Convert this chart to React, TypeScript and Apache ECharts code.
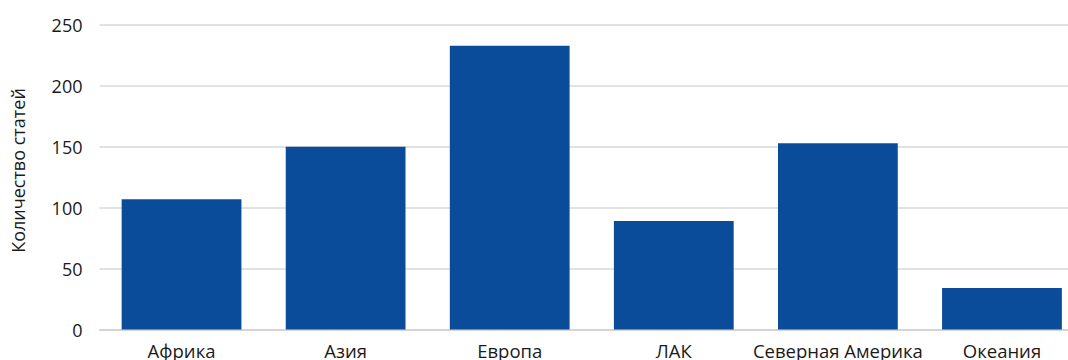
import React, { useEffect, useRef } from "react";
import * as echarts from "echarts";

const categories = ["Африка", "Азия", "Европа", "ЛАК", "Северная Америка", "Океания"];
const values = [107, 150, 233, 89, 153, 34];
const yTicks = { min: 0, max: 250, interval: 50 };
const yTitle = "Количество статей";

export default function App() {
  const ref = useRef<HTMLDivElement>(null);
  useEffect(() => {
    if (!ref.current) return;
    const chart = echarts.init(ref.current, undefined, { renderer: "svg" });
    const font = "'Open Sans', 'Noto Sans', sans-serif";
    chart.setOption({
      animation: false,
      grid: { left: 99.5, right: 0, top: 25, bottom: 30.5, containLabel: false },
      graphic: [
        {
          type: "text",
          x: 18,
          y: 170.5,
          rotation: Math.PI / 2,
          style: {
            text: yTitle,
            fill: "#1a1a1a",
            font: `18px ${font}`,
            textAlign: "center",
            textVerticalAlign: "middle",
          },
        },
      ],
      xAxis: {
        type: "category",
        data: categories,
        axisTick: { show: false },
        axisLine: { show: true, lineStyle: { color: "#d0d0d0", width: 1.5 } },
        axisLabel: { color: "#1a1a1a", fontSize: 18.5, fontFamily: font, margin: 11, interval: 0 },
      },
      yAxis: {
        type: "value",
        min: yTicks.min,
        max: yTicks.max,
        interval: yTicks.interval,
        axisLine: { show: false },
        axisTick: { show: false },
        axisLabel: { color: "#1a1a1a", fontSize: 18, fontFamily: font, margin: 17 },
        splitLine: { lineStyle: { color: "#d9d9d9", width: 1.5 } },
      },
      series: [
        {
          type: "bar",
          data: values,
          barCategoryGap: "27%",
          itemStyle: { color: "#0a4c9a" },
        },
      ],
    });
    return () => chart.dispose();
  }, []);
  return (
    <div style={{ position: "absolute", left: 0, top: 0, width: 1068, height: 360, overflow: "hidden" }}>
      <div ref={ref} style={{ width: 1084, height: 360 }} />
    </div>
  );
}
